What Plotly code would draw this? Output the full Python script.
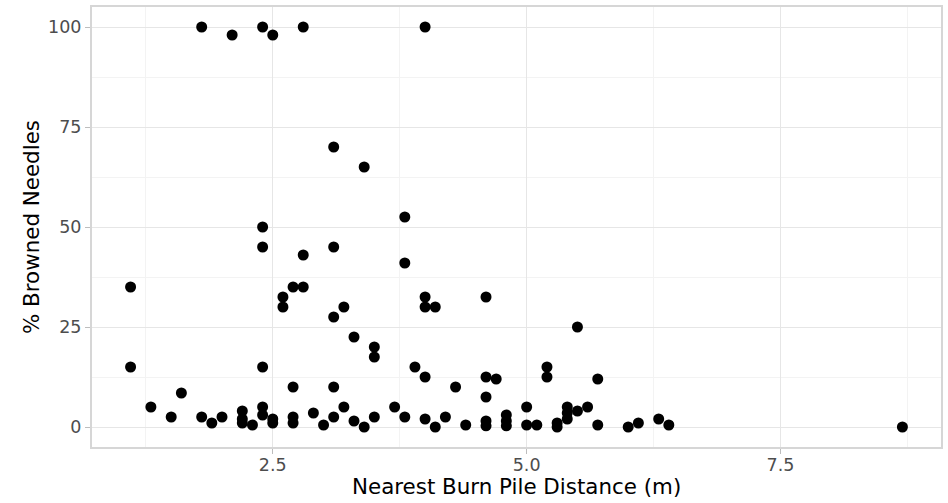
import plotly.graph_objects as go

# Nearest burn pile distance (m)
distance = [
    1.1, 1.1, 1.3, 1.5, 1.6, 1.8, 1.8, 1.9, 2.0, 2.1,
    2.2, 2.2, 2.2, 2.3, 2.4, 2.4, 2.4, 2.4, 2.4, 2.4,
    2.5, 2.5, 2.5, 2.6, 2.6, 2.7, 2.7, 2.7, 2.7, 2.8,
    2.8, 2.8, 2.9, 3.0, 3.1, 3.1, 3.1, 3.1, 3.1, 3.2,
    3.2, 3.3, 3.3, 3.4, 3.4, 3.5, 3.5, 3.5, 3.7, 3.8,
    3.8, 3.8, 3.9, 4.0, 4.0, 4.0, 4.0, 4.0, 4.1, 4.1,
    4.2, 4.3, 4.4, 4.6, 4.6, 4.6, 4.6, 4.6, 4.7, 4.8,
    4.8, 4.8, 5.0, 5.0, 5.1, 5.2, 5.2, 5.3, 5.3, 5.4,
    5.4, 5.4, 5.5, 5.5, 5.6, 5.7, 5.7, 6.0, 6.1, 6.3,
    6.4, 8.7,
]
# % browned needles
browned = [
    35, 15, 5, 2.5, 8.5, 100, 2.5, 1, 2.5, 98,
    4, 2, 1, 0.5, 100, 50, 45, 15, 5, 3,
    98, 2, 1, 32.5, 30, 35, 10, 2.5, 1, 100,
    43, 35, 3.5, 0.5, 70, 45, 27.5, 10, 2.5, 30,
    5, 22.5, 1.5, 65, 0, 20, 17.5, 2.5, 5, 52.5,
    41, 2.5, 15, 100, 32.5, 30, 12.5, 2, 30, 0,
    2.5, 10, 0.5, 32.5, 12.5, 7.5, 1.5, 0.3, 12, 3,
    1.5, 0.3, 5, 0.5, 0.5, 15, 12.5, 1, 0, 5,
    3.5, 2, 25, 4, 5, 12, 0.5, 0, 1, 2,
    0.5, 0,
]

x_ticks = [2.5, 5.0, 7.5]
x_tick_labels = ["2.5", "5.0", "7.5"]
y_ticks = [0, 25, 50, 75, 100]
y_tick_labels = ["0", "25", "50", "75", "100"]

FONT = "DejaVu Sans"

fig = go.Figure(
    go.Scatter(
        x=distance,
        y=browned,
        mode="markers",
        marker=dict(color="black", size=11, line=dict(width=0)),
        hoverinfo="x+y",
    )
)

xmin, xmax = min(distance), max(distance)
ymin, ymax = min(browned), max(browned)
xpad = (xmax - xmin) * 0.05
ypad = (ymax - ymin) * 0.05

axis_common = dict(
    showgrid=True,
    gridcolor="#e6e6e6",
    gridwidth=1.2,
    zeroline=False,
    showline=True,
    linecolor="#d6d6d6",
    linewidth=2,
    mirror=True,
    ticks="outside",
    ticklen=5,
    tickwidth=1.2,
    tickcolor="#bdbdbd",
    tickfont=dict(family=FONT, size=17.5, color="#4d4d4d"),
    minor=dict(showgrid=True, gridcolor="#f3f3f3", gridwidth=1, ticks=""),
)

fig.update_xaxes(
    range=[xmin - xpad, xmax + xpad],
    tickvals=x_ticks,
    ticktext=x_tick_labels,
    minor_tickvals=[1.25, 3.75, 6.25, 8.75],
    ticklabelstandoff=-4,
    **axis_common,
)
fig.update_yaxes(
    range=[ymin - ypad, ymax + ypad],
    tickvals=y_ticks,
    ticktext=y_tick_labels,
    minor_tickvals=[12.5, 37.5, 62.5, 87.5],
    **axis_common,
)

fig.update_layout(
    width=948,
    height=503,
    margin=dict(l=92, r=5, t=5, b=56),
    paper_bgcolor="white",
    plot_bgcolor="white",
    showlegend=False,
    font=dict(family=FONT, color="black"),
    annotations=[
        dict(
            text="Nearest Burn Pile Distance (m)",
            xref="paper", yref="paper", x=0.5, y=0,
            xanchor="center", yanchor="top", yshift=-25,
            showarrow=False,
            font=dict(family=FONT, size=21.4, color="black"),
        ),
        dict(
            text="% Browned Needles",
            xref="paper", yref="paper", x=0, y=0.5,
            xanchor="center", yanchor="middle", xshift=-61,
            textangle=-90,
            showarrow=False,
            font=dict(family=FONT, size=21.4, color="black"),
        ),
    ],
)

fig.write_html("out.html")
